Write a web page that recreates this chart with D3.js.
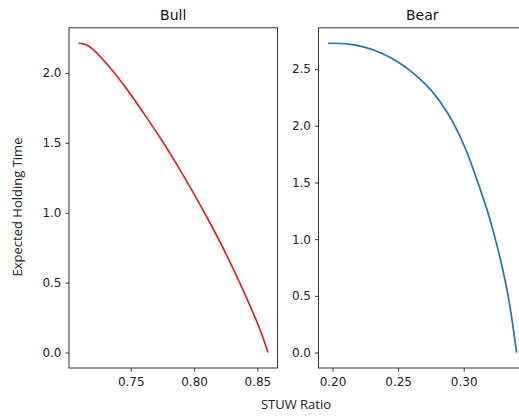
<!DOCTYPE html>
<html>
<head>
<meta charset="utf-8">
<script src="https://cdn.jsdelivr.net/npm/d3@7"></script>
<style>
  body { margin: 0; background: #fff; }
  svg { display: block; }
  .tick text { font-family: "DejaVu Sans", sans-serif; font-size: 12px; fill: #222; }
  .tick line { stroke: #333; }
  .domain { display: none; }
</style>
</head>
<body>
<div id="chart"></div>
<script>
// Bull regime: STUW ratio vs expected holding time
const bullX = [0.7087, 0.7115, 0.7153, 0.7206, 0.7337, 0.7469, 0.7599, 0.7731, 0.7862, 0.7980, 0.8124, 0.8256, 0.8387, 0.8518, 0.8584]
const bullY = [2.212, 2.210, 2.199, 2.165, 2.037, 1.884, 1.716, 1.538, 1.348, 1.165, 0.930, 0.699, 0.447, 0.170, 0.0]

// Bear regime
const bearX = [0.1965, 0.2122, 0.2249, 0.2376, 0.2502, 0.2629, 0.2756, 0.2883, 0.3010, 0.3111, 0.3187, 0.3263, 0.3327, 0.3365, 0.3403]
const bearY = [2.728, 2.720, 2.692, 2.640, 2.560, 2.452, 2.308, 2.102, 1.808, 1.490, 1.225, 0.902, 0.572, 0.315, 0.0]

const bullTicksX = [0.75, 0.80, 0.85]
const bearTicksX = [0.20, 0.25, 0.30]
const bullTicksY = [0.0, 0.5, 1.0, 1.5, 2.0]
const bearTicksY = [0.0, 0.5, 1.0, 1.5, 2.0, 2.5]

const panels = [
  { title: 'Bull', xs: bullX, ys: bullY, tx: bullTicksX, ty: bullTicksY, color: '#d62728', left: 69, right: 277.5 },
  { title: 'Bear', xs: bearX, ys: bearY, tx: bearTicksX, ty: bearTicksY, color: '#1f77b4', left: 318.5, right: 526 },
]

const plotTop = 27.8, plotBottom = 368

const svg = d3.select('#chart').append('svg')
  .attr('width', 519)
  .attr('height', 416)

/* matplotlib style 5% margins */
function padded(ext) {
  const p = (ext[1] - ext[0]) * 0.05
  return [ext[0] - p, ext[1] + p]
}

panels.forEach(p => {
  const x = d3.scaleLinear().domain(padded(d3.extent(p.xs))).range([p.left, p.right])
  const y = d3.scaleLinear().domain(padded(d3.extent(p.ys))).range([plotBottom, plotTop])

  const g = svg.append('g')

  g.append('g')
    .attr('transform', `translate(0,${plotBottom})`)
    .call(d3.axisBottom(x).tickValues(p.tx).tickFormat(d3.format('.2f')).tickSize(3.5).tickPadding(6))

  g.append('g')
    .attr('transform', `translate(${p.left},0)`)
    .call(d3.axisLeft(y).tickValues(p.ty).tickFormat(d3.format('.1f')).tickSize(3.5).tickPadding(4))

  const line = d3.line()
    .x((d, i) => x(p.xs[i]))
    .y((d, i) => y(p.ys[i]))
    .curve(d3.curveCatmullRom.alpha(0.5))

  g.append('path')
    .datum(p.ys)
    .attr('d', line)
    .attr('fill', 'none')
    .attr('stroke', p.color)
    .attr('stroke-width', 1.7)

  // frame
  g.append('rect')
    .attr('x', p.left)
    .attr('y', plotTop)
    .attr('width', p.right - p.left)
    .attr('height', plotBottom - plotTop)
    .attr('fill', 'none')
    .attr('stroke', '#333')
    .attr('stroke-width', 1)

  g.append('text')
    .attr('x', (p.left + p.right) / 2)
    .attr('y', 19.5)
    .attr('text-anchor', 'middle')
    .attr('font-family', 'DejaVu Sans, sans-serif')
    .attr('font-size', 14)
    .attr('fill', '#111')
    .text(p.title)
})

svg.append('text')
  .attr('x', 296)
  .attr('y', 409)
  .attr('text-anchor', 'middle')
  .attr('font-family', 'Open Sans, sans-serif')
  .attr('font-size', 13)
  .attr('fill', '#222')
  .text('STUW Ratio')

svg.append('text')
  .attr('transform', 'translate(22,207) rotate(-90)')
  .attr('text-anchor', 'middle')
  .attr('font-family', 'Open Sans, sans-serif')
  .attr('font-size', 13)
  .attr('fill', '#222')
  .text('Expected Holding Time')
</script>
</body>
</html>
